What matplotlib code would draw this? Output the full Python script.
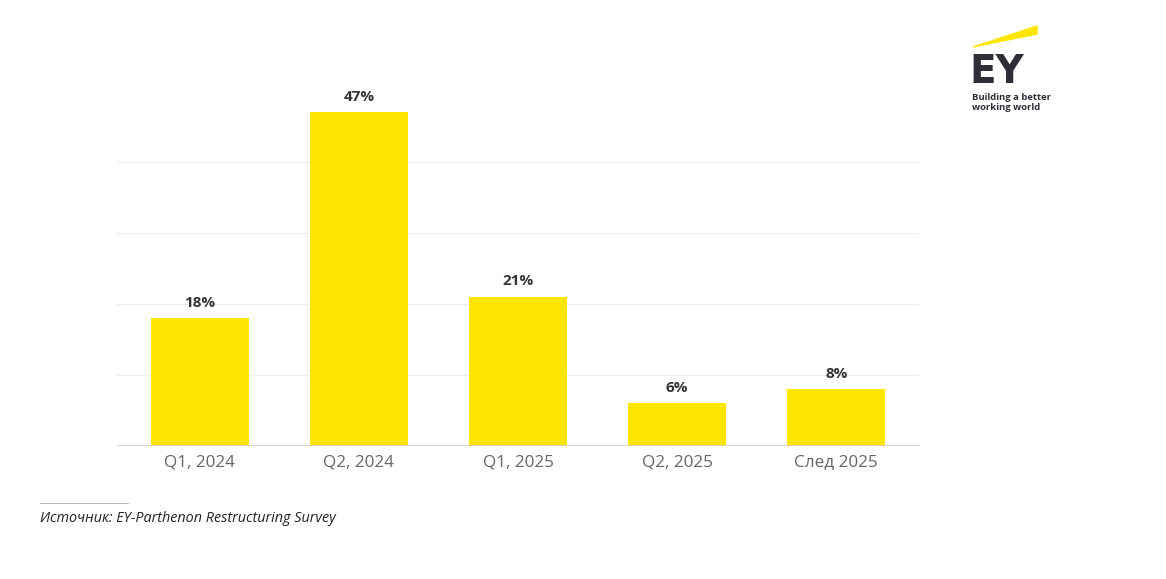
import matplotlib
matplotlib.use('Agg')
import matplotlib.pyplot as plt
from matplotlib.patches import Polygon

categories = ['Q1, 2024', 'Q2, 2024', 'Q1, 2025', 'Q2, 2025', 'След 2025']
values = [18, 47, 21, 6, 8]
grid_ticks = [10, 20, 30, 40]

W, H = 1166, 579
fig = plt.figure(figsize=(W / 100, H / 100), dpi=100)
plt.rcParams['font.family'] = ['Open Sans', 'DejaVu Sans']

# axes placed in pixel coordinates
left, right, bottom, top = 117, 919, 446, 103
ax = fig.add_axes([left / W, (H - bottom) / H, (right - left) / W, (bottom - top) / H])

x = range(len(categories))
ax.bar(x, values, width=0.615, color='#FFE600', zorder=2)
for xi, v in zip(x, values):
    ax.text(xi, v + 1.2, '{}%'.format(v), ha='center', va='bottom',
            fontsize=11, fontweight='bold', color='#333333')

ax.set_xlim(-0.52, 4.52)
ax.set_ylim(0, 48.3)
for g in grid_ticks:
    ax.axhline(g, color='#ececec', lw=0.8, zorder=1)
ax.axhline(0, color='#cfcfcf', lw=1.2, zorder=3)

ax.set_xticks(list(x))
ax.set_xticklabels(categories, fontsize=12.3, color='#666666')
ax.tick_params(axis='x', length=0, pad=6)
ax.set_yticks([])
for s in ax.spines.values():
    s.set_visible(False)

# footnote
fig.add_artist(plt.Line2D([40 / W, 128 / W], [1 - 503 / H, 1 - 503 / H],
                          color='#bbbbbb', lw=0.8))
fig.text(40 / W, 1 - 519 / H, 'Источник: EY-Parthenon Restructuring Survey',
         fontsize=10.4, style='italic', color='#222222', va='center')

# EY logo
beam = Polygon([[973 / W, 1 - 47 / H], [1037 / W, 1 - 26 / H], [1037 / W, 1 - 34 / H]],
               closed=True, color='#FFE600', transform=fig.transFigure)
fig.add_artist(beam)
fig.text(969 / W, 1 - 72 / H, 'EY', fontsize=28, fontweight='bold',
         color='#2e2e38', va='center', ha='left', family='DejaVu Sans')
fig.text(972 / W, 1 - 97 / H, 'Building a better', fontsize=6.8, fontweight='bold',
         color='#2e2e38', va='center')
fig.text(972 / W, 1 - 107 / H, 'working world', fontsize=6.8, fontweight='bold',
         color='#2e2e38', va='center')

fig.savefig('out.png', dpi=100, facecolor='white')
